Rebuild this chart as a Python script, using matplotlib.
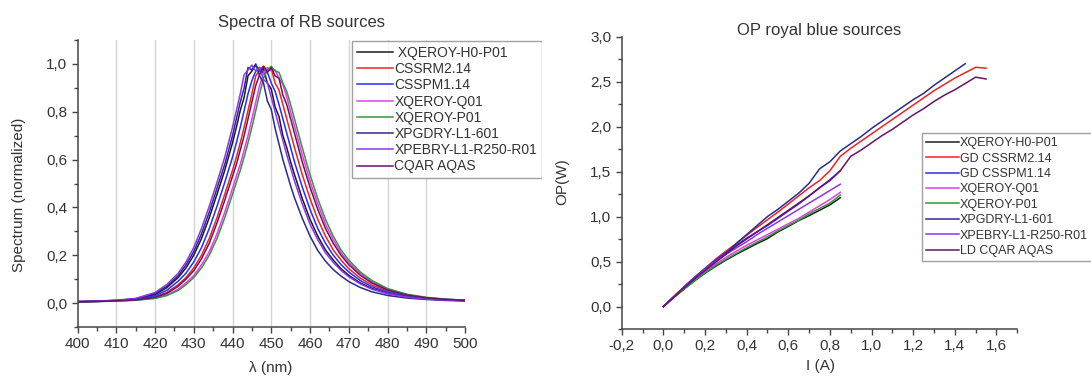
import matplotlib
matplotlib.use("Agg")
import matplotlib.pyplot as plt
from matplotlib.ticker import MultipleLocator, FuncFormatter
from matplotlib.transforms import Bbox, TransformedBbox

plt.rcParams['font.family'] = ['Liberation Sans', 'DejaVu Sans']

# ---------------- spectra (normalized) ----------------
wavelength_nm = [400, 405, 410, 415, 420, 423, 426, 428, 430, 432, 434, 436, 438, 440,
                 441, 442, 443, 444, 445, 446, 447, 448, 449, 450, 451, 452, 453, 454, 455, 456,
                 458, 460, 462, 464, 466, 468, 470, 473, 476, 480, 485, 490, 495, 500]

spec_xqeroy_h0 = [0.006, 0.008, 0.011, 0.017, 0.036, 0.064, 0.107, 0.147, 0.200, 0.270, 0.357, 0.455, 0.555, 0.670,
                  0.735, 0.805, 0.860, 0.950, 0.970, 0.995, 0.970, 0.980, 0.920, 0.895, 0.820, 0.780, 0.700, 0.650, 0.590, 0.537,
                  0.437, 0.350, 0.280, 0.222, 0.180, 0.144, 0.116, 0.084, 0.061, 0.041, 0.026, 0.018, 0.013, 0.010]
spec_cssrm = [0.006, 0.007, 0.010, 0.014, 0.026, 0.044, 0.077, 0.107, 0.147, 0.200, 0.270, 0.357, 0.455, 0.555,
              0.610, 0.670, 0.735, 0.805, 0.875, 0.950, 0.975, 0.990, 0.970, 0.980, 0.920, 0.890, 0.830, 0.770, 0.710, 0.650,
              0.537, 0.437, 0.350, 0.280, 0.222, 0.180, 0.144, 0.104, 0.076, 0.050, 0.031, 0.021, 0.015, 0.011]
spec_csspm = [0.006, 0.0075, 0.010, 0.015, 0.031, 0.053, 0.092, 0.125, 0.172, 0.232, 0.312, 0.405, 0.505, 0.610,
              0.670, 0.735, 0.805, 0.875, 0.930, 0.970, 0.985, 0.960, 0.965, 0.920, 0.885, 0.830, 0.770, 0.710, 0.650, 0.590,
              0.485, 0.392, 0.312, 0.250, 0.200, 0.161, 0.130, 0.094, 0.068, 0.045, 0.028, 0.019, 0.014, 0.011]
spec_xqeroy_q01 = [0.005, 0.0065, 0.009, 0.012, 0.021, 0.033, 0.058, 0.085, 0.115, 0.160, 0.215, 0.290, 0.380, 0.480,
                   0.530, 0.580, 0.640, 0.700, 0.770, 0.840, 0.910, 0.960, 0.985, 0.970, 0.975, 0.940, 0.915, 0.860, 0.800, 0.740,
                   0.620, 0.510, 0.415, 0.330, 0.265, 0.210, 0.170, 0.123, 0.089, 0.058, 0.035, 0.023, 0.016, 0.012]
spec_xqeroy_p01 = [0.005, 0.006, 0.0085, 0.012, 0.0195, 0.031, 0.053, 0.077, 0.107, 0.147, 0.200, 0.270, 0.357, 0.455,
                   0.505, 0.555, 0.610, 0.670, 0.735, 0.805, 0.875, 0.940, 0.975, 0.990, 0.970, 0.965, 0.920, 0.885, 0.830, 0.770,
                   0.650, 0.537, 0.437, 0.350, 0.280, 0.222, 0.180, 0.130, 0.094, 0.061, 0.037, 0.024, 0.0165, 0.012]
spec_xpgdry = [0.006, 0.008, 0.011, 0.018, 0.040, 0.070, 0.115, 0.160, 0.215, 0.290, 0.380, 0.480, 0.580, 0.700,
               0.770, 0.840, 0.900, 0.985, 0.975, 1.000, 0.950, 0.920, 0.845, 0.810, 0.730, 0.665, 0.600, 0.545, 0.490, 0.440,
               0.355, 0.280, 0.220, 0.175, 0.140, 0.113, 0.090, 0.065, 0.047, 0.032, 0.021, 0.015, 0.011, 0.009]
spec_xpebry = [0.006, 0.0085, 0.012, 0.0195, 0.044, 0.077, 0.125, 0.172, 0.232, 0.312, 0.405, 0.505, 0.610, 0.735,
               0.805, 0.875, 0.955, 0.975, 0.995, 0.970, 0.985, 0.935, 0.920, 0.860, 0.800, 0.740, 0.680, 0.620, 0.565, 0.510,
               0.415, 0.330, 0.265, 0.210, 0.170, 0.137, 0.110, 0.080, 0.058, 0.039, 0.025, 0.017, 0.0125, 0.010]
spec_cqar = [0.005, 0.007, 0.0095, 0.013, 0.024, 0.040, 0.070, 0.100, 0.135, 0.185, 0.250, 0.335, 0.430, 0.530,
             0.580, 0.640, 0.700, 0.770, 0.840, 0.910, 0.955, 0.990, 0.965, 0.985, 0.950, 0.940, 0.870, 0.830, 0.770, 0.710,
             0.590, 0.485, 0.392, 0.312, 0.250, 0.200, 0.161, 0.116, 0.084, 0.055, 0.0335, 0.022, 0.0155, 0.012]

spec_labels = [' XQEROY-H0-P01', 'CSSRM2.14', 'CSSPM1.14', 'XQEROY-Q01', 'XQEROY-P01',
               'XPGDRY-L1-601', 'XPEBRY-L1-R250-R01', 'CQAR AQAS']

# ---------------- optical power vs current ----------------
current_short = [0.00, 0.05, 0.10, 0.15, 0.20, 0.25, 0.30, 0.35, 0.40, 0.45, 0.50, 0.55,
                 0.60, 0.65, 0.70, 0.75, 0.80, 0.85]
current_mid = [0.00, 0.05, 0.10, 0.15, 0.20, 0.25, 0.30, 0.35, 0.40, 0.45, 0.50, 0.55,
               0.60, 0.65, 0.70, 0.75, 0.80, 0.85, 0.90, 0.95, 1.00, 1.05, 1.10, 1.15,
               1.20, 1.25, 1.30, 1.35, 1.40, 1.45]
current_long = [0.00, 0.05, 0.10, 0.15, 0.20, 0.25, 0.30, 0.35, 0.40, 0.45, 0.50, 0.55,
                0.60, 0.65, 0.70, 0.75, 0.80, 0.85, 0.90, 0.95, 1.00, 1.05, 1.10, 1.15,
                1.20, 1.25, 1.30, 1.35, 1.40, 1.45, 1.50, 1.55]

op_xqeroy_h0 = [0.0, 0.10, 0.195, 0.285, 0.37, 0.445, 0.515, 0.58, 0.64, 0.70, 0.755, 0.83,
                0.89, 0.955, 1.01, 1.07, 1.13, 1.21]
op_cssrm = [0.0, 0.11, 0.22, 0.325, 0.425, 0.525, 0.615, 0.70, 0.79, 0.88, 0.965, 1.05,
            1.14, 1.23, 1.32, 1.40, 1.51, 1.67, 1.76, 1.84, 1.92, 2.00, 2.08, 2.16,
            2.24, 2.32, 2.40, 2.47, 2.54, 2.60, 2.66, 2.65]
op_csspm = [0.0, 0.11, 0.22, 0.325, 0.42, 0.515, 0.60, 0.68, 0.76, 0.83, 0.90, 0.98,
            1.06, 1.14, 1.23, 1.32, 1.41, 1.51]
op_xqeroy_q01 = [0.0, 0.105, 0.205, 0.30, 0.39, 0.47, 0.545, 0.615, 0.68, 0.74, 0.80, 0.86,
                 0.92, 0.98, 1.05, 1.12, 1.19, 1.27]
op_xqeroy_p01 = [0.0, 0.10, 0.195, 0.29, 0.375, 0.455, 0.525, 0.59, 0.655, 0.715, 0.775, 0.84,
                 0.90, 0.96, 1.03, 1.09, 1.15, 1.24]
op_xpgdry = [0.0, 0.105, 0.21, 0.31, 0.405, 0.50, 0.59, 0.70, 0.80, 0.90, 1.00, 1.08,
             1.17, 1.26, 1.37, 1.53, 1.61, 1.73, 1.81, 1.89, 1.98, 2.06, 2.14, 2.22,
             2.30, 2.37, 2.46, 2.54, 2.62, 2.70]
op_xpebry = [0.0, 0.11, 0.215, 0.315, 0.41, 0.50, 0.58, 0.65, 0.72, 0.80, 0.87, 0.94,
             1.01, 1.08, 1.15, 1.22, 1.29, 1.36]
op_cqar = [0.0, 0.105, 0.21, 0.31, 0.40, 0.49, 0.58, 0.67, 0.75, 0.83, 0.91, 0.99,
           1.07, 1.15, 1.23, 1.32, 1.40, 1.51, 1.67, 1.74, 1.82, 1.90, 1.97, 2.05,
           2.13, 2.20, 2.28, 2.35, 2.41, 2.48, 2.55, 2.53]

op_labels = ['XQEROY-H0-P01', 'GD CSSRM2.14', 'GD CSSPM1.14', 'XQEROY-Q01', 'XQEROY-P01',
             'XPGDRY-L1-601', 'XPEBRY-L1-R250-R01', 'LD CQAR AQAS']

colors = ['#1c1c1c', '#ec2424', '#2a2ef0', '#e83ce8', '#2f9a3a',
          '#2b2b8e', '#8f34ee', '#651466']

text_col = '#333333'
spine_col = '#454545'

W, H = 1091, 381
fig = plt.figure(figsize=(W / 100, H / 100), dpi=100)


def comma(v, pos):
    return f"{v:.1f}".replace('.', ',')


def style_axes(ax):
    for s in ('top', 'right'):
        ax.spines[s].set_visible(False)
    for s in ('left', 'bottom'):
        ax.spines[s].set_color(spine_col)
        ax.spines[s].set_linewidth(1.1)
    ax.tick_params(which='both', direction='out', colors=spine_col,
                   labelcolor=text_col, labelsize=11)
    ax.tick_params(which='major', length=4.5, width=1.0, pad=3)
    ax.tick_params(which='minor', length=3, width=1.0)


def clipped_legend(ax, handles, labels, anchor, fontsize, spacing, clip_x):
    leg = ax.legend(handles, labels, loc='upper left', bbox_to_anchor=anchor,
                    fontsize=fontsize, frameon=True, fancybox=False,
                    borderaxespad=0, handlelength=2.6, handletextpad=0.1,
                    labelspacing=spacing, borderpad=0.35)
    frame = leg.get_frame()
    frame.set_edgecolor('#8a8a8a')
    frame.set_linewidth(1.0)
    for t in leg.get_texts():
        t.set_color(text_col)
    clip = TransformedBbox(Bbox([[0, 0], [clip_x / W, 1]]), fig.transFigure)
    leg.legendPatch.set_clip_box(clip)
    leg.legendPatch.set_clip_on(True)
    return leg


# ---------------- left panel: spectra ----------------
ax1 = fig.add_axes([77.5 / W, 1 - 327 / H, 387.5 / W, 287 / H])
spectra = [spec_xqeroy_h0, spec_cssrm, spec_csspm, spec_xqeroy_q01, spec_xqeroy_p01,
           spec_xpgdry, spec_xpebry, spec_cqar]
h1 = []
for vals, c in zip(spectra, colors):
    ln, = ax1.plot(wavelength_nm, vals, color=c, lw=1.1)
    h1.append(ln)
ax1.set_xlim(400, 500)
ax1.set_ylim(-0.1, 1.1)
ax1.xaxis.set_major_locator(MultipleLocator(10))
ax1.xaxis.set_minor_locator(MultipleLocator(5))
ax1.yaxis.set_major_locator(MultipleLocator(0.2))
ax1.yaxis.set_minor_locator(MultipleLocator(0.1))
ax1.yaxis.set_major_formatter(FuncFormatter(comma))
for gx in range(410, 500, 10):
    ax1.axvline(gx, color='#d4d4d4', lw=1.0, zorder=0)
style_axes(ax1)
clipped_legend(ax1, h1, spec_labels, ((352 - 77.5) / 387.5, (327 - 41) / 287), 10, 0.16, 542)

fig.text(301 / W, 1 - 22 / H, 'Spectra of RB sources', ha='center', va='center',
         fontsize=12, color=text_col)
fig.text(19 / W, 1 - 195 / H, 'Spectrum (normalized)', rotation=90, ha='center',
         va='center', fontsize=11, color=text_col)
fig.text(271 / W, 1 - 368 / H, 'λ (nm)', ha='center', va='center',
         fontsize=11, color=text_col)

# ---------------- right panel: optical power ----------------
ax2 = fig.add_axes([621.7 / W, 1 - 329 / H, 395.6 / W, 292.3 / H])
op_series = [(current_short, op_xqeroy_h0), (current_long, op_cssrm), (current_short, op_csspm),
             (current_short, op_xqeroy_q01), (current_short, op_xqeroy_p01),
             (current_mid, op_xpgdry), (current_short, op_xpebry), (current_long, op_cqar)]
h2 = []
for (xs, ys), c in zip(op_series, colors):
    ln, = ax2.plot(xs, ys, color=c, lw=1.1)
    h2.append(ln)
ax2.set_xlim(-0.2, 1.7)
ax2.set_ylim(-0.25, 3.0)
ax2.xaxis.set_major_locator(MultipleLocator(0.2))
ax2.xaxis.set_minor_locator(MultipleLocator(0.1))
ax2.yaxis.set_major_locator(MultipleLocator(0.5))
ax2.yaxis.set_minor_locator(MultipleLocator(0.25))
ax2.xaxis.set_major_formatter(FuncFormatter(comma))
ax2.yaxis.set_major_formatter(FuncFormatter(comma))
style_axes(ax2)
clipped_legend(ax2, h2, op_labels, ((922 - 621.7) / 395.6, (329 - 133) / 292.3), 9, 0.27, W)

fig.text(819.5 / W, 1 - 31 / H, 'OP royal blue sources', ha='center', va='center',
         fontsize=12, color=text_col)
fig.text(562.5 / W, 1 - 182 / H, 'OP(W)', rotation=90, ha='center', va='center',
         fontsize=11, color=text_col)
fig.text(821 / W, 1 - 366 / H, 'I (A)', ha='center', va='center',
         fontsize=11, color=text_col)

fig.savefig('out.png', dpi=100)
